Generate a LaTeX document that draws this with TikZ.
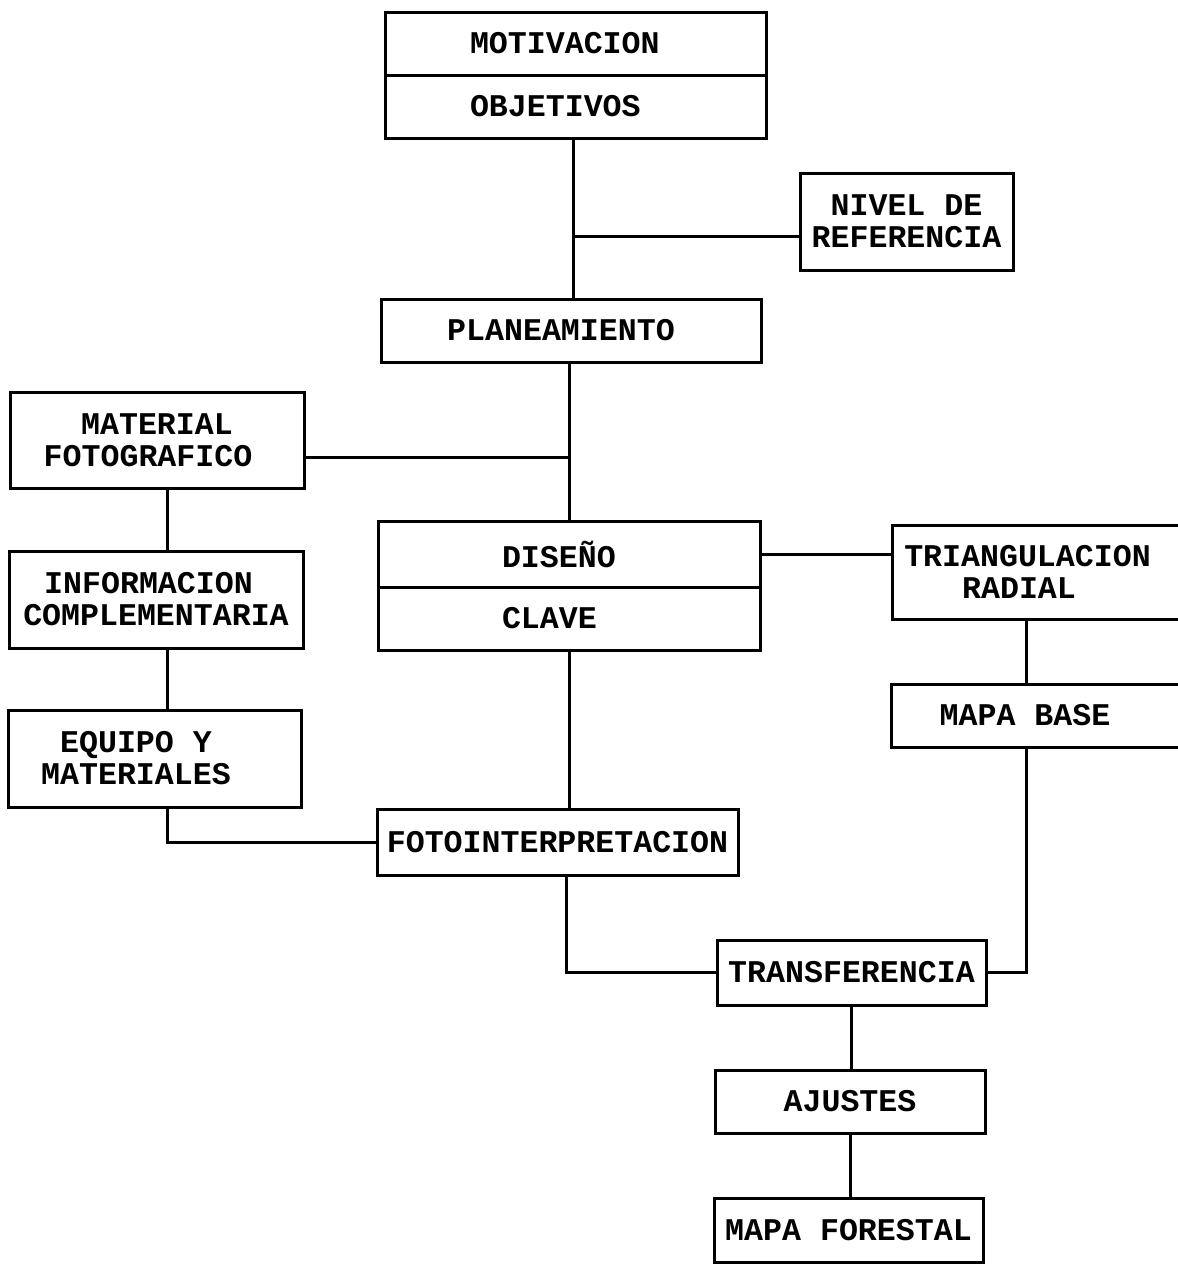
\documentclass[tikz,border=0pt]{standalone}
\usepackage{fontspec}
\setmainfont{Liberation Mono}
\newdimen\pxu \pxu=0.5pt
\tikzset{
  box/.style={draw, line width=1.5pt, inner sep=0pt, align=center,
    font=\bfseries\fontsize{15.8}{16}\selectfont},
  sz/.style 2 args={minimum width=#1\pxu, minimum height=#2\pxu},
  wire/.style={line width=1.5pt},
}
\begin{document}
\begin{tikzpicture}[x=0.5pt, y=-0.5pt]
\useasboundingbox (0,0) rectangle (1178,1264);
\clip (0,0) rectangle (1178,1264);
% boxes
\node[box, sz={381}{63}, text width=211\pxu, align=left] (mot) at (575.5,43.5) {MOTIVACION};
\node[box, sz={381}{63}, text width=211\pxu, align=left] (obj) at (575.5,106.5) {OBJETIVOS};
\node[box, sz={213}{97}] (niv) at (906.5,221.5) {NIVEL DE\\REFERENCIA};
\node[box, sz={380}{63}] (plan) at (571,330.5) {PLANEAMIENTO\hspace*{20\pxu}};
\node[box, sz={294}{96}] (mat) at (157,440) {MATERIAL\\FOTOGRAFICO\hspace*{18\pxu}};
\node[box, sz={294}{97}] (inf) at (156,599.5) {INFORMACION\hspace*{15\pxu}\\COMPLEMENTARIA};
\node[box, sz={293}{97}] (equ) at (154.5,758.5) {EQUIPO Y\hspace*{37\pxu}\\MATERIALES\hspace*{37\pxu}};
\node[box, sz={382}{66}, text width=134\pxu, align=left] (dis) at (569,554) {DISEÑO};
\node[box, sz={382}{63}, text width=134\pxu, align=left] (cla) at (569,618.5) {CLAVE};
\node[box, sz={298}{94}] (tri) at (1041,572) {TRIANGULACION\hspace*{27\pxu}\\RADIAL\hspace*{44\pxu}};
\node[box, sz={299}{63}] (base) at (1040.5,715.5) {MAPA BASE\hspace*{31\pxu}};
\node[box, sz={361}{66}] (foto) at (557.5,842) {FOTOINTERPRETACION};
\node[box, sz={269}{65}] (tra) at (851.5,972.5) {TRANSFERENCIA};
\node[box, sz={270}{63}] (aju) at (850,1101.5) {AJUSTES};
\node[box, sz={269}{64}] (mf) at (848.5,1230) {MAPA FORESTAL};
% junction coordinates
\coordinate (j1) at (573,236);
\coordinate (j2) at (569,457);
\coordinate (xl) at (167,0);
\coordinate (xr) at (1026,0);
\coordinate (xm) at (566,0);
% connectors
\draw[wire] (obj.south -| j1) -- (plan.north -| j1);
\draw[wire] (j1) -- (niv.west |- j1);
\draw[wire] (plan.south -| j2) -- (dis.north -| j2);
\draw[wire] (mat.east |- j2) -- (j2);
\draw[wire] (mat.south -| xl) -- (inf.north -| xl);
\draw[wire] (inf.south -| xl) -- (equ.north -| xl);
\draw[wire] (equ.south -| xl) |- (foto.west);
\draw[wire] (dis.east) -- (dis.east -| tri.west);
\draw[wire] (cla.south) -- (cla.south |- foto.north);
\draw[wire] (tri.south -| xr) -- (base.north -| xr);
\draw[wire] (base.south -| xr) |- (tra.east);
\draw[wire] (foto.south -| xm) |- (tra.west);
\draw[wire] (tra.south) -- (tra.south |- aju.north);
\draw[wire] (aju.south) -- (aju.south |- mf.north);
\end{tikzpicture}
\end{document}
